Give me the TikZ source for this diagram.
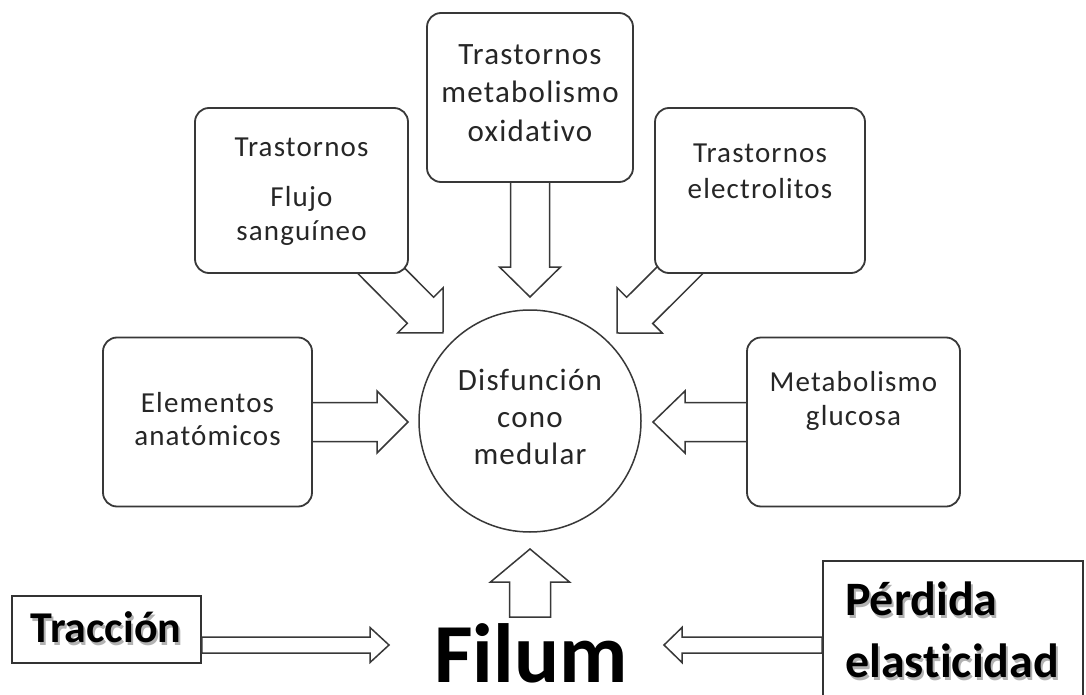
\documentclass[tikz,border=0pt]{standalone}
\usepackage{fontspec}
\setmainfont{Carlito}[Ligatures=NoCommon]
\newfontfamily\boxfont{Carlito}[LetterSpace=4,Ligatures=NoCommon]
\usetikzlibrary{calc}
\pgfdeclarelayer{background}
\pgfsetlayers{background,main}
\newcommand\shad[1]{\makebox[0pt][l]{\hspace{2pt}\raisebox{-3pt}{\textcolor{black!30}{#1}}}#1}
% block arrow: half shaft width, half head width, head length, from, to
\newcommand\blockarr[5]{%
  \draw[barrow] let \p1=(#4), \p2=(#5),
    \n1={atan2(\y2-\y1,\x2-\x1)}, \n2={veclen(\x2-\x1,\y2-\y1)} in
    [shift={(\p1)}, rotate=\n1]
    (0,#1) -- ({\n2-#3},#1) -- ({\n2-#3},#2) -- (\n2,0) -- ({\n2-#3},-#2)
    -- ({\n2-#3},-#1) -- (0,-#1) -- cycle;}
\begin{document}
\begin{tikzpicture}[x=1pt, y=-1pt,
  box/.style={draw=black!78, line width=1.8pt, rounded corners=14pt, fill=white, inner sep=0pt},
  sqbox/.style={draw=black!80, line width=1.8pt, fill=white, inner sep=0pt},
  txt/.style={anchor=base, inner sep=0pt, text=black!85, font={\boxfont\fontsize{29pt}{31pt}\selectfont}},
  bigtxt/.style={anchor=base, inner sep=0pt, text=black!85, font={\boxfont\fontsize{31pt}{33pt}\selectfont}},
  boldtxt/.style={inner sep=0pt, text=black, font={\bfseries\fontsize{48pt}{50pt}\selectfont}},
  barrow/.style={draw=black!78, line width=1.5pt, fill=white, line join=miter}]
\useasboundingbox (0,0) rectangle (1086,695);

% boxes
\node[box, minimum width=213pt, minimum height=165pt] (flujo) at (301.5,190.5) {};
\node[box, minimum width=206pt, minimum height=169pt] (oxid)  at (530,97.5) {};
\node[box, minimum width=210pt, minimum height=165pt] (elec)  at (760,190.5) {};
\node[box, minimum width=209pt, minimum height=169pt] (elem)  at (207.5,422) {};
\node[box, minimum width=213pt, minimum height=169pt] (metab) at (853.5,422) {};
\node[circle, draw=black!78, line width=1.5pt, fill=white, minimum size=222pt, inner sep=0pt] (circ) at (530,421) {};
\node[sqbox, minimum width=189pt, minimum height=67pt] (trac) at (106.5,629.5) {};
\node[sqbox, minimum width=260pt, minimum height=159pt] (perd) at (953,640.5) {};

% texts
\node[txt] (t1a) at (301.5,157) {Trastornos};
\node[txt] (t1b) at (301.5,206) {Flujo};
\node[txt] (t1c) at (301.5,240) {sanguíneo};
\node[bigtxt] (t2a) at (530,65) {Trastornos};
\node[bigtxt] (t2b) at (530,103) {metabolismo};
\node[bigtxt] (t2c) at (530,142) {oxidativo};
\node[txt] (t3a) at (760,163) {Trastornos};
\node[txt] (t3b) at (760,198) {electrolitos};
\node[txt] (t4a) at (207.5,412) {Elementos};
\node[txt] (t4b) at (207.5,445) {anatómicos};
\node[txt] (t5a) at (853.5,391) {Metabolismo};
\node[txt] (t5b) at (853.5,425) {glucosa};
\node[bigtxt] (t6a) at (530,390) {Disfunción};
\node[bigtxt] (t6b) at (530,427) {cono};
\node[bigtxt] (t6c) at (530,464) {medular};
\node[boldtxt, anchor=base, font={\bfseries\fontsize{44pt}{46pt}\selectfont}] (ttrac) at (106,642) {\shad{Tracción}};
\node[boldtxt, anchor=base west] (tperd1) at (845,615) {\shad{Pérdida}};
\node[boldtxt, anchor=base west] (tperd2) at (845,677) {\shad{elasticidad}};
\node[boldtxt, anchor=base, font={\bfseries\fontsize{84pt}{86pt}\selectfont}] (filum) at (531,682) {Filum};

% arrow tips and free ends
\coordinate (tipA) at (443,333);
\coordinate (tipB) at (530,297);
\coordinate (tipC) at (617,333);
\coordinate (tipD) at (408,422);
\coordinate (tipE) at (653,422);
\coordinate (tipF) at (530,549);
\coordinate (tailF) at (530,617);
\coordinate (tipG) at (389,645);
\coordinate (tipH) at (664,645);

\begin{pgfonlayer}{background}
\fill[white] (0,0) rectangle (1086,695);
\blockarr{18.5}{32}{32}{flujo.center}{tipA}
\blockarr{19.5}{30.5}{30}{oxid.center}{tipB}
\blockarr{18.5}{32}{32}{elec.center}{tipC}
\blockarr{19.5}{31}{31}{elem.center}{tipD}
\blockarr{19.5}{31}{32}{metab.center}{tipE}
\end{pgfonlayer}
\blockarr{20.5}{39.5}{33}{tailF}{tipF}
\blockarr{8}{17.5}{19}{trac.east |- tipG}{tipG}
\blockarr{8}{17.5}{18}{perd.west |- tipH}{tipH}
\end{tikzpicture}
\end{document}
